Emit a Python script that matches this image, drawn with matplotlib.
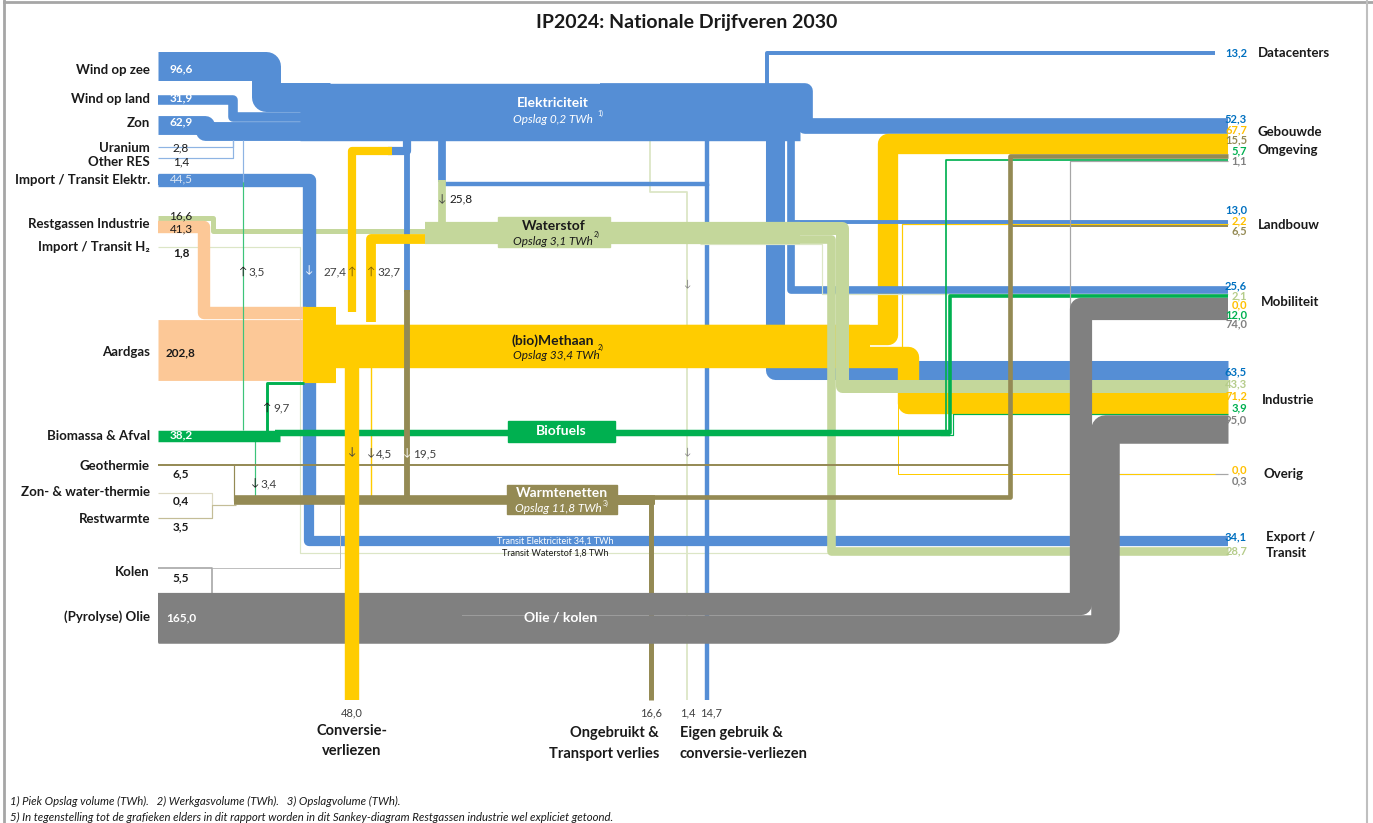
import matplotlib
matplotlib.use("Agg")
import matplotlib.pyplot as plt
from matplotlib.patches import Rectangle

plt.rcParams['font.family'] = ['Lato', 'DejaVu Sans']

# ---- data (TWh) ----
bronnen = ['Wind op zee', 'Wind op land', 'Zon', 'Uranium', 'Other RES',
           'Import / Transit Elektr.', 'Restgassen Industrie', 'Import / Transit H\u2082',
           'Aardgas', 'Biomassa & Afval', 'Geothermie', 'Zon- & water-thermie',
           'Restwarmte', 'Kolen', '(Pyrolyse) Olie']
bron_waarden = [96.6, 31.9, 62.9, 2.8, 1.4, 44.5, 16.6, 1.8, 202.8, 38.2, 6.5, 0.4, 3.5, 5.5, 165.0]
restgas_methaan = 41.3

sinks = ['Datacenters', 'Gebouwde\nOmgeving', 'Landbouw', 'Mobiliteit', 'Industrie', 'Overig', 'Export /\nTransit']
elek = [13.2, 52.3, 13.0, 25.6, 63.5, None, 34.1]
waterstof = [None, None, None, 2.1, 43.3, None, 28.7]
methaan = [None, 67.7, 2.2, 0.0, 71.2, 0.0, None]
warmte = [None, 15.5, 6.5, None, None, None, None]
biofuels = [None, 5.7, None, 12.0, 3.9, None, None]
olie = [None, 1.1, None, 74.0, 95.0, 0.3, None]
dragers = [elek, waterstof, methaan, warmte, biofuels, olie]

conversie_verlies = 48.0
ongebruikt = 16.6
h2_verlies = 1.4
eigen_gebruik = 14.7

elektrolyse = 25.8
gas_naar_elek = 27.4
gas_naar_h2 = 32.7
bio_naar_elek = 3.5
bio_naar_gas = 9.7
bio_naar_warmte = 3.4
gas_naar_warmte = 4.5
elek_naar_warmte = 19.5
opslag = {'Elektriciteit': 0.2, 'Waterstof': 3.1, 'Methaan': 33.4, 'Warmte': 11.8}

# ---- style ----
BLUE = '#558ED5'
LBLUE = '#8EB4E3'
H2 = '#C4D79B'
H2L = '#DCE6C6'
GAS = '#FFCC00'
PEACH = '#FCC897'
BIO = '#00B050'
HEAT = '#948A54'
OIL = '#808080'
VAL_COL = ['#0070C0', '#B5CC8A', '#FFC000', '#948A54', '#00B050', '#808080']

K = 0.3          # px per TWh
PT = 72 / 100    # points per px

fig = plt.figure(figsize=(13.73, 8.23), dpi=100)
ax = fig.add_axes([0, 0, 1, 1])
ax.set_xlim(0, 1373)
ax.set_ylim(823, 0)
ax.axis('off')


def band(pts, v, color, z, minw=1.2):
    xs = [p[0] for p in pts]
    ys = [p[1] for p in pts]
    ax.plot(xs, ys, color=color, lw=max(v * K, minw) * PT,
            solid_capstyle='butt', solid_joinstyle='round', zorder=z)


def txt(x, y, s, size=9, color='#1a1a1a', weight='normal', ha='center', style='normal', z=20):
    ax.text(x, y, s, fontsize=size, color=color, fontweight=weight, ha=ha, va='center',
            fontstyle=style, zorder=z)


def fmt(v):
    return f"{v:.1f}".replace('.', ',')


# sink stacks: centre y of every carrier at every sink
sink_top = [51, 118, 220, 286, 360, 474, 536]
sy = {}
for j, top in enumerate(sink_top):
    y = top
    for i, d in enumerate(dragers):
        if d[j] is not None:
            sy[(i, j)] = y + d[j] * K / 2
            y += d[j] * K
XE = 1228

# source centres
v = dict(zip(bronnen, bron_waarden))
c_zee = 52 + v['Wind op zee'] * K / 2
c_land = 95 + v['Wind op land'] * K / 2
c_zon = 116 + v['Zon'] * K / 2
c_imp = 173 + v['Import / Transit Elektr.'] * K / 2
c_rh2 = 216 + v['Restgassen Industrie'] * K / 2
c_rch4 = 216 + v['Restgassen Industrie'] * K + restgas_methaan * K / 2
c_gas = 320 + v['Aardgas'] * K / 2
c_bio = 430 + v['Biomassa & Afval'] * K / 2
c_olie_mob = 593 + olie[3] * K / 2
c_olie_ind = 593 + olie[3] * K + olie[4] * K / 2

# ---- Elektriciteit ----
trunk_top = 83
t1 = trunk_top + v['Wind op zee'] * K / 2
t2 = trunk_top + v['Wind op zee'] * K + v['Wind op land'] * K / 2
t3 = trunk_top + (v['Wind op zee'] + v['Wind op land']) * K + v['Zon'] * K / 2
band([(158, c_zee), (266, c_zee), (266, t1), (330, t1)], v['Wind op zee'], BLUE, 2)
band([(158, c_land), (233, c_land), (233, t2), (330, t2)], v['Wind op land'], BLUE, 2)
band([(158, c_zon), (205, c_zon), (205, t3), (330, t3)], v['Zon'], BLUE, 2)
trunk_v = v['Wind op zee'] + v['Wind op land'] + v['Zon']
band([(300, trunk_top + trunk_v * K / 2), (800, trunk_top + trunk_v * K / 2)], trunk_v, BLUE, 2)
band([(767, 100), (767, sy[(0, 0)]), (1215, sy[(0, 0)])], elek[0], BLUE, 4)
band([(600, trunk_top + elek[1] * K / 2), (805, trunk_top + elek[1] * K / 2), (805, sy[(0, 1)]), (XE, sy[(0, 1)])], elek[1], BLUE, 2)
band([(775, 130), (775, sy[(0, 4)]), (XE, sy[(0, 4)])], elek[4], BLUE, 2)
band([(791, 130), (791, sy[(0, 3)]), (XE, sy[(0, 3)])], elek[3], BLUE, 4)
band([(791, sy[(0, 2)]), (XE, sy[(0, 2)])], elek[2], BLUE, 4)
band([(442, 138), (442, 184), (707, 184), (707, 700)], eigen_gebruik, BLUE, 2)
band([(707, 138), (707, 186)], eigen_gebruik, BLUE, 2)
band([(442, 138), (442, 182)], elektrolyse, BLUE, 2)
# import / transit
band([(158, c_imp), (309, c_imp), (309, sy[(0, 6)]), (XE, sy[(0, 6)])], elek[6], BLUE, 2)
band([(158, c_imp), (309, c_imp), (309, 500)], v['Import / Transit Elektr.'], BLUE, 2)
band([(158, 147), (233, 147), (233, 140)], v['Uranium'], LBLUE, 2)
band([(158, 158), (233, 158), (233, 140)], v['Other RES'], LBLUE, 2)
band([(243, 182), (243, 140)], bio_naar_elek, LBLUE, 2)
# gas -> elec, elec -> heat
band([(388, 151), (407, 151), (407, 138)], gas_naar_elek, BLUE, 2)
band([(407, 140), (407, 292)], elek_naar_warmte, BLUE, 2)

# ---- Waterstof ----
band([(158, c_rh2), (213, c_rh2), (213, 231), (430, 231)], v['Restgassen Industrie'], H2, 1.5)
band([(442, 180), (442, 236)], elektrolyse, H2, 5)
h2_tot = waterstof[3] + waterstof[4] + waterstof[6]
band([(425, 222 + h2_tot * K / 2), (800, 222 + h2_tot * K / 2)], h2_tot, H2, 5)
band([(700, 222 + waterstof[4] * K / 2), (842, 222 + waterstof[4] * K / 2), (842, sy[(1, 4)]), (XE, sy[(1, 4)])], waterstof[4], H2, 5)
yx = 222 + waterstof[4] * K + waterstof[6] * K / 2
band([(700, yx), (831, yx), (831, sy[(1, 6)]), (XE, sy[(1, 6)])], waterstof[6], H2, 5)
band([(700, 244), (822, 244), (822, sy[(1, 3)]), (XE, sy[(1, 3)])], waterstof[3], H2L, 4)
band([(158, 247), (300, 247), (300, 553), (XE, 553)], v['Import / Transit H\u2082'], H2L, 1)
band([(650, 140), (650, 192), (687, 192), (687, 700)], h2_verlies, H2L, 1, minw=1.8)

# ---- (bio)Methaan ----
band([(158, c_gas), (306, c_gas)], v['Aardgas'], PEACH, 3)
band([(158, c_rch4), (204, c_rch4), (204, 313), (306, 313)], restgas_methaan, PEACH, 3)
blok = v['Aardgas'] + restgas_methaan + bio_naar_gas
band([(303, 307 + blok * K / 2), (336, 307 + blok * K / 2)], blok, GAS, 3)
gas_band = methaan[1] + methaan[2] + methaan[4]
band([(333, 325 + gas_band * K / 2), (870, 325 + gas_band * K / 2)], gas_band, GAS, 3)
yg = 325 + methaan[1] * K / 2
band([(333, yg), (888, yg), (888, sy[(2, 1)]), (XE, sy[(2, 1)])], methaan[1], GAS, 3)
yi = 325 + (methaan[1] + methaan[2]) * K + methaan[4] * K / 2
band([(333, yi), (908, yi), (908, sy[(2, 4)]), (XE, sy[(2, 4)])], methaan[4], GAS, 3)
band([(890, 366), (902, 366), (902, sy[(2, 2)]), (XE, sy[(2, 2)])], methaan[2], GAS, 2.5)
band([(898, 368), (898, sy[(2, 5)]), (1215, sy[(2, 5)])], methaan[5], GAS, 3, minw=1)
band([(352, 368), (352, 700)], conversie_verlies, GAS, 8)
band([(352, 312), (352, 151), (392, 151)], gas_naar_elek, GAS, 3)
band([(371, 322), (371, 239), (430, 239)], gas_naar_h2, GAS, 3)
band([(371, 367), (371, 499), (430, 499)], gas_naar_warmte, GAS, 3, minw=1.4)

# ---- Biofuels ----
band([(158, c_bio), (280, c_bio)], v['Biomassa & Afval'], BIO, 6)
bio_tot = biofuels[1] + biofuels[3] + biofuels[4]
band([(275, 430 + bio_tot * K / 2), (950, 430 + bio_tot * K / 2)], bio_tot, BIO, 6)
band([(900, 431), (946, 431), (946, sy[(4, 1)]), (XE, sy[(4, 1)])], biofuels[1], BIO, 6)
band([(900, 433), (950, 433), (950, sy[(4, 3)]), (XE, sy[(4, 3)])], biofuels[3], BIO, 6)
band([(940, 435), (953, 435), (953, sy[(4, 4)]), (XE, sy[(4, 4)])], biofuels[4], BIO, 6)
band([(243, 430), (243, 182)], bio_naar_elek, '#3CC47A', 4)
band([(267, 431), (267, 383), (304, 383)], bio_naar_gas, BIO, 6)
band([(255, 441), (255, 500.5), (470, 500.5)], bio_naar_warmte, '#3CC47A', 5)

# ---- Warmtenetten ----
band([(158, 465), (1010, 465), (1010, sy[(3, 2)]), (XE, sy[(3, 2)])], warmte[2], HEAT, 6)
band([(234, 465), (234, 501)], 3.5, HEAT, 6)
band([(158, 493), (212, 493), (212, 505)], v['Zon- & water-thermie'], '#DDD9C3', 6)
band([(158, 518), (212, 518), (212, 505), (236, 505)], v['Restwarmte'], '#C4BD97', 6)
heat_tot = warmte[1] + ongebruikt
band([(234, 495 + heat_tot * K / 2), (655, 495 + heat_tot * K / 2)], heat_tot, HEAT, 6)
band([(600, 497), (1010, 497), (1010, sy[(3, 1)]), (XE, sy[(3, 1)])], warmte[1], HEAT, 6)
band([(600, 502), (651, 502), (651, 700)], ongebruikt, HEAT, 6)
band([(407, 290), (407, 499), (480, 499)], elek_naar_warmte, HEAT, 6)

# ---- Olie / kolen ----
band([(1070, 600), (1070, sy[(5, 1)]), (XE, sy[(5, 1)])], olie[1], '#A6A6A6', 6)
band([(1070, sy[(5, 5)]), (XE, sy[(5, 5)])], olie[5], '#A6A6A6', 2.6)
band([(158, 568), (212, 568), (212, 593)], v['Kolen'], '#A6A6A6', 7)
band([(212, 568), (340, 568), (340, 505)], 0.3, '#BFBFBF', 2, minw=1)
band([(158, c_olie_mob), (1081, c_olie_mob), (1081, sy[(5, 3)]), (XE, sy[(5, 3)])], olie[3], OIL, 7)
band([(158, c_olie_ind), (1105, c_olie_ind), (1105, sy[(5, 4)]), (XE, sy[(5, 4)])], olie[4], OIL, 7)
band([(158, 593 + v['(Pyrolyse) Olie'] * K / 2), (462, 593 + v['(Pyrolyse) Olie'] * K / 2)], v['(Pyrolyse) Olie'], OIL, 7)

# ---- node boxes ----
ax.add_patch(Rectangle((498, 217), 112, 30, color=H2, zorder=9))
ax.add_patch(Rectangle((508, 421), 107, 21, color=BIO, zorder=9))
ax.add_patch(Rectangle((507, 485), 110, 29, color=HEAT, zorder=9))

txt(553, 103, 'Elektriciteit', 10, 'white', 'bold')
txt(553, 119, 'Opslag ' + fmt(opslag['Elektriciteit']) + ' TWh', 8.5, 'white', style='italic')
txt(600, 113, '1)', 5, 'white')
txt(554, 226, 'Waterstof', 10, '#1a1a1a', 'bold')
txt(553, 241, 'Opslag ' + fmt(opslag['Waterstof']) + ' TWh', 8.5, style='italic')
txt(597, 234, '2)', 5)
txt(553, 341, '(bio)Methaan', 10, '#1a1a1a', 'bold')
txt(601, 347, '2)', 5)
txt(556, 355, 'Opslag ' + fmt(opslag['Methaan']) + ' TWh', 8.5, style='italic')
txt(561, 431, 'Biofuels', 10, 'white', 'bold')
txt(562, 493, 'Warmtenetten', 10, 'white', 'bold')
txt(558, 508, 'Opslag ' + fmt(opslag['Warmte']) + ' TWh', 8.5, 'white', style='italic')
txt(606, 503, '3)', 5, 'white')
txt(561, 617, 'Olie / kolen', 10, 'white', 'bold')
txt(555, 541, 'Transit Elektriciteit ' + fmt(elek[6]) + ' TWh', 6.5, 'white')
txt(555, 553, 'Transit Waterstof ' + fmt(v['Import / Transit H\u2082']) + ' TWh', 6.5, '#1a1a1a')

# ---- flow annotations ----
txt(442, 199, '\u2193', 8, '#404040')
txt(450, 199, fmt(elektrolyse), 8.5, '#1a1a1a', ha='left')
txt(243, 271, '\u2191', 8, '#1a1a1a')
txt(248, 272, fmt(bio_naar_elek), 8.5, '#404040', ha='left')
txt(309, 270, '\u2193', 8, 'white')
txt(346, 272, fmt(gas_naar_elek), 8.5, '#404040', ha='right')
txt(352, 271, '\u2191', 8, '#806000')
txt(371, 271, '\u2191', 8, '#806000')
txt(377, 272, fmt(gas_naar_h2), 8.5, '#404040', ha='left')
txt(267, 407, '\u2191', 8, '#1a1a1a')
txt(273, 408, fmt(bio_naar_gas), 8.5, '#404040', ha='left')
txt(352, 452, '\u2193', 8, '#404040')
txt(371, 453, '\u2193', 8, '#404040')
txt(376, 454, fmt(gas_naar_warmte), 8.5, '#404040', ha='left')
txt(407, 453, '\u2193', 8, 'white')
txt(413, 454, fmt(elek_naar_warmte), 8.5, '#404040', ha='left')
txt(255, 483, '\u2193', 8, '#1a1a1a')
txt(260, 484, fmt(bio_naar_warmte), 8.5, '#404040', ha='left')
txt(687, 284, '\u2193', 7, '#808080')
txt(687, 452, '\u2193', 7, '#808080')

# ---- source labels ----
bron_label_y = [70, 99, 123, 148, 162, 180, 224, 247, 352, 436, 466, 492, 519, 572, 617]
bron_value_y = [69, 98, 122, 148, 162, 179, 216, 253, 353, 435, 474, 501, 527, 578, 618]
bron_value_kleur = ['white', 'white', 'white', '#1a1a1a', '#1a1a1a', '#DCE6F2', '#1a1a1a', '#1a1a1a',
                    '#1a1a1a', 'white', '#1a1a1a', '#1a1a1a', '#1a1a1a', '#1a1a1a', 'white']
bron_value_vet = [True, True, True, False, False, False, False, True, True, True, True, True, True, True, True]
for naam, waarde, ly, vy, kl, vet in zip(bronnen, bron_waarden, bron_label_y, bron_value_y,
                                         bron_value_kleur, bron_value_vet):
    txt(150, ly, naam, 9.5, '#1a1a1a', 'bold', ha='right')
    txt(181, vy, fmt(waarde), 8.5, kl, 'bold' if vet else 'normal')
txt(181, 229, fmt(restgas_methaan), 8.5, '#1a1a1a')

# ---- sink labels ----
sink_label_top = [53, 119, 210, 286, 372, 470, 537]
sink_label_stap = [10, 10.5, 10.5, 9.5, 12, 11, 14]
for j in range(len(sinks)):
    n = 0
    for i, d in enumerate(dragers):
        if d[j] is not None:
            txt(1247, sink_label_top[j] + n * sink_label_stap[j], fmt(d[j]), 8, VAL_COL[i], 'bold', ha='right')
            n += 1
txt(1258, 53, 'Datacenters', 9.5, '#1a1a1a', 'bold', ha='left')
txt(1258, 132, 'Gebouwde', 9.5, '#1a1a1a', 'bold', ha='left')
txt(1258, 150, 'Omgeving', 9.5, '#1a1a1a', 'bold', ha='left')
txt(1258, 225, 'Landbouw', 9.5, '#1a1a1a', 'bold', ha='left')
txt(1261, 302, 'Mobiliteit', 9.5, '#1a1a1a', 'bold', ha='left')
txt(1262, 400, 'Industrie', 9.5, '#1a1a1a', 'bold', ha='left')
txt(1264, 474, 'Overig', 9.5, '#1a1a1a', 'bold', ha='left')
txt(1266, 537, 'Export /', 9.5, '#1a1a1a', 'bold', ha='left')
txt(1266, 553, 'Transit', 9.5, '#1a1a1a', 'bold', ha='left')

# ---- losses ----
txt(352, 713, fmt(conversie_verlies), 8, '#404040')
txt(651, 713, fmt(ongebruikt), 8, '#404040')
txt(688, 713, fmt(h2_verlies), 8, '#404040')
txt(711, 713, fmt(eigen_gebruik), 8, '#404040')
txt(352, 731, 'Conversie-', 10.5, '#1a1a1a', 'bold')
txt(352, 751, 'verliezen', 10.5, '#1a1a1a', 'bold')
txt(659, 733, 'Ongebruikt &', 10.5, '#1a1a1a', 'bold', ha='right')
txt(659, 754, 'Transport verlies', 10.5, '#1a1a1a', 'bold', ha='right')
txt(680, 733, 'Eigen gebruik &', 10.5, '#1a1a1a', 'bold', ha='left')
txt(680, 754, 'conversie-verliezen', 10.5, '#1a1a1a', 'bold', ha='left')

# ---- title, footnotes, frame ----
txt(687, 22, 'IP2024: Nationale Drijfveren 2030', 14, '#1a1a1a', 'bold')
txt(10, 801, '1) Piek Opslag volume (TWh).   2) Werkgasvolume (TWh).   3) Opslagvolume (TWh).', 8.2,
    '#1a1a1a', ha='left', style='italic')
txt(10, 817, '5) In tegenstelling tot de grafieken elders in dit rapport worden in dit Sankey-diagram '
    'Restgassen industrie wel expliciet getoond.', 8.2, '#1a1a1a', ha='left', style='italic')
ax.plot([4, 4], [0, 823], color='#A6A6A6', lw=2, zorder=30)
ax.plot([4, 1373], [1.5, 1.5], color='#A6A6A6', lw=2, zorder=30)
ax.plot([1367, 1367], [0, 823], color='#BFBFBF', lw=1.5, zorder=30)

plt.savefig('out.png', dpi=100)
